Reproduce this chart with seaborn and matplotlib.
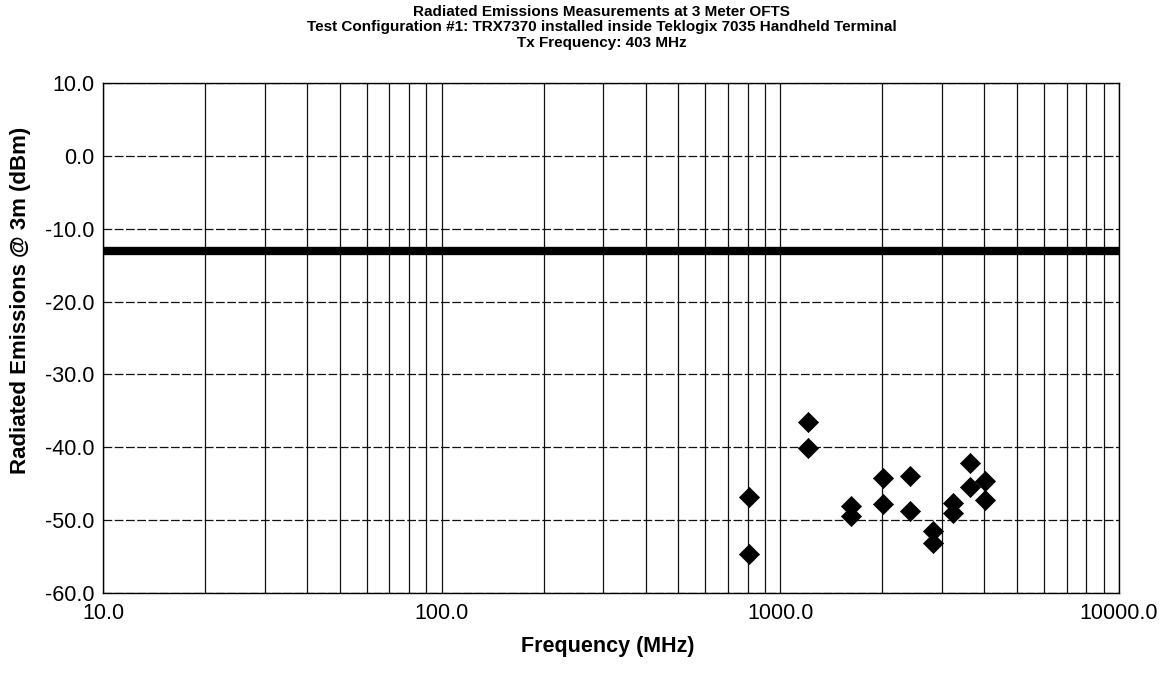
import matplotlib
matplotlib.use("Agg")
import matplotlib.pyplot as plt
import matplotlib.ticker as mticker
import numpy as np
import pandas as pd
import seaborn as sns

# Harmonics of the 403 MHz carrier, two readings each (H / V polarisation)
harmonic_freq_mhz = [806, 806, 1209, 1209, 1612, 1612, 2015, 2015, 2418, 2418,
                     2821, 2821, 3224, 3224, 3627, 3627, 4030, 4030]
emission_dbm = [-46.8, -54.6, -36.5, -40.1, -48.1, -49.5, -44.2, -47.8, -43.9, -48.8,
                -51.5, -53.1, -47.7, -49.0, -42.1, -45.4, -44.7, -47.3]

# Spurious emission limit
limit_freq_mhz = [10.0, 10000.0]
limit_dbm = [-13.0, -13.0]

x_ticks = [10.0, 100.0, 1000.0, 10000.0]
y_ticks = [10.0, 0.0, -10.0, -20.0, -30.0, -40.0, -50.0, -60.0]

title_lines = [
    "Radiated Emissions Measurements at 3 Meter OFTS",
    "Test Configuration #1: TRX7370 installed inside Teklogix 7035 Handheld Terminal",
    "Tx Frequency: 403 MHz",
]

sns.set_theme(style="white")
plt.rcParams["font.family"] = ["Liberation Sans", "DejaVu Sans"]

emissions = pd.DataFrame({"freq": harmonic_freq_mhz, "level": emission_dbm})
limit = pd.DataFrame({"freq": limit_freq_mhz, "level": limit_dbm})

fig = plt.figure(figsize=(11.71, 6.79), dpi=100)
ax = fig.add_axes([0.088, 0.1267, 0.8676, 0.7511])

ax.set_xscale("log")
ax.set_xlim(10, 10000)
ax.set_ylim(-60, 10)

# grid: solid verticals (decades + sub-decades), dashed horizontals
ax.xaxis.set_major_locator(mticker.FixedLocator(x_ticks))
ax.xaxis.set_minor_locator(mticker.LogLocator(base=10, subs=np.arange(2, 10)))
ax.xaxis.set_minor_formatter(mticker.NullFormatter())
ax.xaxis.set_major_formatter(mticker.FuncFormatter(lambda v, p: f"{v:.1f}"))
ax.yaxis.set_major_locator(mticker.FixedLocator(y_ticks))
ax.yaxis.set_major_formatter(mticker.FuncFormatter(lambda v, p: f"{v:.1f}"))

ax.grid(True, which="major", axis="x", color="#111111", linewidth=0.9)
ax.grid(True, which="minor", axis="x", color="#111111", linewidth=0.9)
ax.grid(True, which="major", axis="y", color="#111111", linewidth=0.9,
        linestyle=(0, (7, 2)))
ax.set_axisbelow(True)

sns.lineplot(data=limit, x="freq", y="level", ax=ax, color="black",
             linewidth=6, solid_capstyle="round", zorder=3)
sns.scatterplot(data=emissions, x="freq", y="level", ax=ax, marker="D",
                s=105, color="black", edgecolor="black", linewidth=0.5, zorder=4)

for sp in ax.spines.values():
    sp.set_color("black")
    sp.set_linewidth(1.0)

ax.tick_params(axis="both", which="major", direction="inout", length=7,
               width=1.0, color="black", labelsize=15.5, labelcolor="black")
ax.tick_params(axis="x", which="minor", length=0)
ax.tick_params(axis="x", which="major", pad=4)
ax.tick_params(axis="y", which="major", pad=3)
for lbl in ax.get_yticklabels():
    lbl.set_verticalalignment("center_baseline")

ax.set_xlabel("Frequency (MHz)", fontsize=15.5, fontweight="bold", color="black")
ax.set_ylabel("Radiated Emissions @ 3m (dBm)", fontsize=16, fontweight="bold",
              color="black")
ax.xaxis.set_label_coords(0.497, -0.084)
ax.yaxis.set_label_coords(-0.071, 0.573)

for i, line in enumerate(title_lines):
    fig.text(0.514, 1 - (12 + 15.5 * i) / 679, line, ha="center", va="center",
             fontsize=11, fontweight="bold", color="black")

fig.savefig("out.png", dpi=100, facecolor="white")
